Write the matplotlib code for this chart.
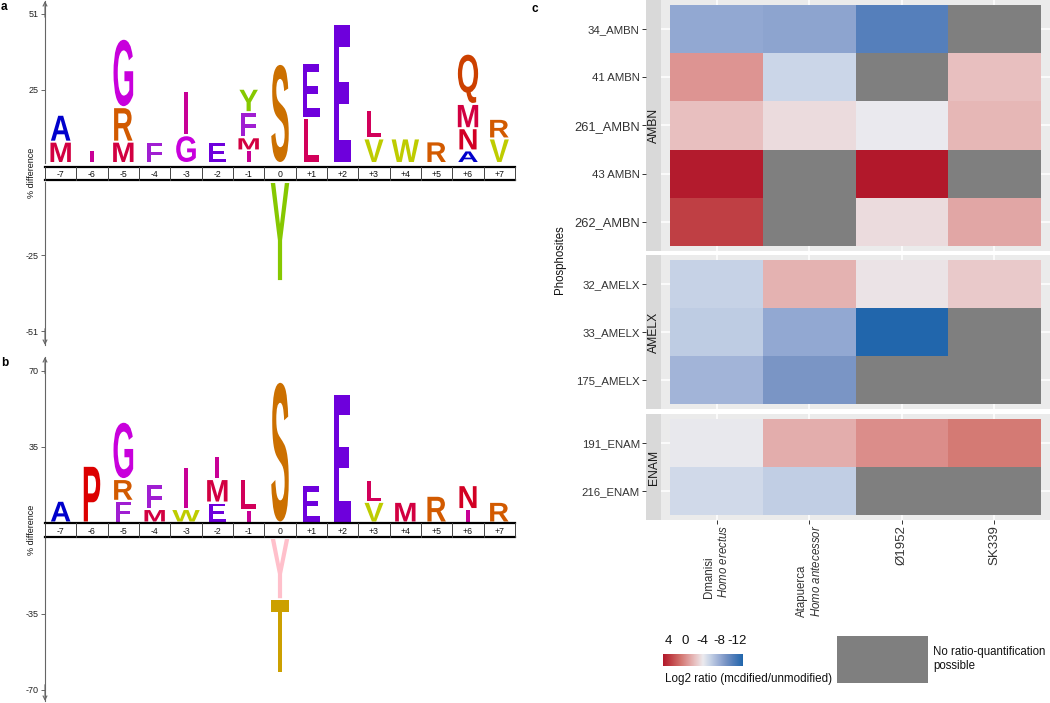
import numpy as np
import matplotlib
matplotlib.use('Agg')
import matplotlib.pyplot as plt
from matplotlib.textpath import TextPath
from matplotlib.patches import PathPatch
from matplotlib.font_manager import FontProperties
import matplotlib.transforms as mtransforms
from matplotlib.colors import LinearSegmentedColormap, Normalize

plt.rcParams['font.family'] = ['Liberation Sans', 'DejaVu Sans']
plt.rcParams['mathtext.fontset'] = 'custom'
plt.rcParams['mathtext.rm'] = 'Liberation Sans'
plt.rcParams['mathtext.it'] = 'Liberation Sans:italic'

W, H = 1050, 703

# ------------------------------------------------------------------ data
positions = ['-7', '-6', '-5', '-4', '-3', '-2', '-1', '0',
             '+1', '+2', '+3', '+4', '+5', '+6', '+7']

# panel a : letters stacked bottom->top, heights in % difference
a_up_letters = ['MA', 'I', 'MRG', 'F', 'GI', 'E', 'IMFY', 'S', 'LE', 'E',
                'VL', 'W', 'R', 'ANMQ', 'VR']
a_up_heights = [[7.3, 9.2], [4.3], [7.3, 11.8, 23.4], [7.3], [9.5, 15.3],
                [7.3], [4.3, 4.5, 8.6, 8.0], [33.9], [15.4, 18.9], [47.6],
                [8.4, 9.6], [8.4], [7.4], [4.3, 7.6, 8.3, 17.2], [8.4, 6.7]]
a_dn_pos = ['0']
a_dn_letters = ['Y']
a_dn_heights = [[33.9]]
a_ticks = [25, 51]

# panel b
b_up_letters = ['A', 'P', 'FRG', 'MF', 'WI', 'EMI', 'IL', 'S', 'E', 'E',
                'VL', 'M', 'R', 'IN', 'R']
b_up_heights = [[10.0], [26.1], [10.0, 10.0, 26.4], [6.2, 11.5], [6.2, 19.2],
                [9.2, 10.8, 10.7], [5.8, 14.2], [64.8], [17.2], [59.4],
                [9.5, 10.2], [9.5], [12.3], [6.2, 11.0], [9.5]]
b_dn_pos = ['0']
b_dn_letters = ['YT']
b_dn_heights = [[28.2, 33.8]]
b_ticks = [35, 70]

aa_colors = {'A': '#0000CC', 'E': '#6E00DC', 'F': '#A01ED2', 'G': '#C800DC',
             'I': '#C80096', 'L': '#D2005A', 'M': '#D20041', 'N': '#D20023',
             'P': '#DC0000', 'Q': '#CC4000', 'R': '#D25A00', 'S': '#CC7000',
             'V': '#BECC00', 'W': '#BECC00', 'Y': '#86C800', 'T': '#CCA000'}
b_dn_colors = {'Y': '#FFC0CB', 'T': '#CCA000'}

# panel c : heatmap (log2 ratio modified/unmodified), nan = not quantifiable
samples_line1 = ['Dmanisi', 'Atapuerca', 'Ø1952', 'SK339']
samples_line2 = ['Homo erectus', 'Homo antecessor', '', '']
nan = np.nan
ambn_sites = ['34_AMBN', '41 AMBN', '261_AMBN', '43 AMBN', '262_AMBN']
ambn_vals = [[-8.2, -8.4, -11.0, nan],
             [-0.3, -5.6, nan, -2.2],
             [-2.2, -3.4, -4.2, -1.8],
             [5.0, nan, 5.2, nan],
             [3.4, nan, -3.4, -1.1]]
amelx_sites = ['32_AMELX', '33_AMELX', '175_AMELX']
amelx_vals = [[-5.8, -1.6, -3.8, -2.6],
              [-6.2, -8.2, -13.4, nan],
              [-7.5, -9.3, nan, nan]]
enam_sites = ['191_ENAM', '216_ENAM']
enam_vals = [[-4.3, -1.4, 0.0, 0.9],
             [-5.4, -6.0, nan, nan]]
cbar_ticks = [4, 0, -4, -8, -12]

# ------------------------------------------------------------------ helpers
fig = plt.figure(figsize=(W / 100, H / 100), dpi=100)


def rect(x0, y0, x1, y1):
    return [x0 / W, 1 - y1 / H, (x1 - x0) / W, (y1 - y0) / H]


FP = FontProperties(family='Liberation Sans', weight='bold')
EM_W = 0.93
_gl = {}


def glyph(ch):
    if ch not in _gl:
        _gl[ch] = TextPath((0, 0), ch, size=1, prop=FP)
    return _gl[ch]


def draw_letter(ax, ch, xc, y0, y1, color, pad):
    tp = glyph(ch)
    bb = tp.get_extents()
    lo, hi = min(y0, y1) + pad, max(y0, y1) - pad
    if hi <= lo:
        return
    tr = (mtransforms.Affine2D()
          .translate(-(bb.x0 + bb.x1) / 2, -bb.y0)
          .scale(EM_W, (hi - lo) / bb.height)
          .translate(xc, lo))
    ax.add_patch(PathPatch(tr.transform_path(tp), facecolor=color,
                           edgecolor='none', lw=0))


LX0, LX1 = 45, 515


def logo(top, z_up, t_top, t_bot, z_dn, bot, ppu, up_l, up_h, dn_p, dn_l, dn_h,
         ticks, dn_colors, label_y):
    xlim = (-0.5, len(positions) - 0.5)
    axu = fig.add_axes(rect(LX0, top, LX1, z_up))
    axu.set_xlim(xlim)
    axu.set_ylim(0, (z_up - top) / ppu)
    axd = fig.add_axes(rect(LX0, z_dn, LX1, bot))
    axd.set_xlim(xlim)
    axd.set_ylim(-(bot - z_dn) / ppu, 0)
    pad = 1.0 / ppu
    for i, (lets, hs) in enumerate(zip(up_l, up_h)):
        y = 0.0
        for ch, h in zip(lets, hs):
            draw_letter(axu, ch, i, y, y + h, aa_colors[ch], pad)
            y += h
    for p, lets, hs in zip(dn_p, dn_l, dn_h):
        i = positions.index(p)
        y = 0.0
        for ch, h in zip(lets, hs):
            draw_letter(axd, ch, i, y, y - h, dn_colors.get(ch, aa_colors[ch]), pad)
            y -= h
    for ax, tk in ((axu, ticks), (axd, [-t for t in ticks])):
        for s in ('top', 'right', 'bottom'):
            ax.spines[s].set_visible(False)
        ax.spines['left'].set_color('#666666')
        ax.spines['left'].set_linewidth(0.8)
        ax.set_xticks([])
        ax.set_yticks(tk)
        ax.set_yticklabels([str(t) for t in tk])
        ax.tick_params(axis='y', length=3, width=0.7, color='#666666',
                       labelsize=6.5, pad=1.5, labelcolor='#222222')
        ax.patch.set_visible(False)
    axu.annotate('', xy=(0, 1), xytext=(0, 0.9), xycoords='axes fraction',
                 arrowprops=dict(arrowstyle='->', color='#666666', lw=0.8,
                                 shrinkA=0, shrinkB=0, mutation_scale=7),
                 annotation_clip=False)
    axd.annotate('', xy=(0, 0), xytext=(0, 0.1), xycoords='axes fraction',
                 arrowprops=dict(arrowstyle='->', color='#666666', lw=0.8,
                                 shrinkA=0, shrinkB=0, mutation_scale=7),
                 annotation_clip=False)
    axt = fig.add_axes(rect(LX0, t_top, LX1, t_bot))
    axt.set_xlim(xlim)
    axt.set_ylim(0, 1)
    axt.axis('off')
    axt.axhline(1, color='black', lw=1.6, clip_on=False)
    axt.axhline(0, color='black', lw=1.6, clip_on=False)
    for k in range(len(positions) + 1):
        axt.axvline(k - 0.5, color='#444444', lw=0.7, clip_on=False)
    for i, p in enumerate(positions):
        axt.text(i, 0.45, p, ha='center', va='center', fontsize=6.3, color='#111111')
    fig.text(32 / W, 1 - label_y / H, '% difference', rotation=90, ha='center',
             va='center', fontsize=6.5, color='#111111')


logo(1, 163, 166.7, 180.3, 182, 345, 2.923, a_up_letters, a_up_heights,
     a_dn_pos, a_dn_letters, a_dn_heights, a_ticks, {}, 173)
logo(357, 522.5, 523.3, 537.3, 538, 701, 2.171, b_up_letters, b_up_heights,
     b_dn_pos, b_dn_letters, b_dn_heights, b_ticks, b_dn_colors, 530)

for lab, x, y in (('a', 1, 1), ('b', 1, 357), ('c', 531, 3)):
    fig.text(x / W, 1 - y / H, lab, fontsize=8.5, fontweight='bold', va='top', ha='left')

# ------------------------------------------------------------------ heatmap
cmap = LinearSegmentedColormap.from_list('rb', [
    (0.00, '#2166AC'), (0.13, '#557FBB'), (0.22, '#7A95C5'), (0.28, '#93A8D2'),
    (0.42, '#CBD6E8'), (0.50, '#ECEAEE'), (0.60, '#E8C1C1'), (0.705, '#DD9492'),
    (0.77, '#D47973'), (0.90, '#C04146'), (1.00, '#B2182B')])
cmap.set_bad('#7F7F7F')
allv = np.concatenate([np.ravel(np.array(v, float)) for v in (ambn_vals, amelx_vals, enam_vals)])
vmin, vmax = np.nanmin(allv), np.nanmax(allv)
norm = Normalize(vmin, vmax)

nS = len(samples_line1)
facets = [('AMBN', ambn_sites, ambn_vals, 0, 251),
          ('AMELX', amelx_sites, amelx_vals, 255, 409),
          ('ENAM', enam_sites, enam_vals, 414, 520)]
big_labels = {'261_AMBN', '262_AMBN'}
last_ax = None
for name, sites, vals, y0, y1 in facets:
    n = len(sites)
    ax = fig.add_axes(rect(661, y0, 1050, y1))
    ax.set_facecolor('#EBEBEB')
    arr = np.ma.masked_invalid(np.array(vals, float))
    ax.set_xlim(0.4, nS + 0.6)
    ax.set_ylim(n + 0.6, 0.4)
    for xx in range(1, nS + 1):
        ax.axvline(xx, color='white', lw=1.1, zorder=0.5)
    for yy in range(1, n + 1):
        ax.axhline(yy, color='white', lw=1.1, zorder=0.5)
    ax.pcolormesh(np.arange(0.5, nS + 1), np.arange(0.5, n + 1), arr,
                  cmap=cmap, norm=norm, zorder=1, edgecolor='none')
    for s in ax.spines.values():
        s.set_visible(False)
    ax.set_xticks([])
    ax.set_yticks([])
    sax = fig.add_axes(rect(646, y0, 661, y1))
    sax.set_facecolor('#D9D9D9')
    for s in sax.spines.values():
        s.set_visible(False)
    sax.set_xlim(0, 1)
    sax.set_ylim(n + 0.6, 0.4)
    sax.set_xticks([])
    sax.set_yticks(range(1, n + 1))
    sax.set_yticklabels(sites)
    sax.tick_params(axis='y', length=3, width=0.7, color='#333333',
                    labelsize=8.2, pad=1.5, labelcolor='#333333')
    for lbl in sax.get_yticklabels():
        if lbl.get_text() in big_labels:
            lbl.set_fontsize(9.3)
    sax.text(0.5, 0.5, name, transform=sax.transAxes, rotation=90,
             ha='center', va='center', fontsize=8.7, color='#1A1A1A')
    last_ax = ax

xl = []
for l1, l2 in zip(samples_line1, samples_line2):
    if l2:
        xl.append(l1 + '\n$\\mathit{' + l2.replace(' ', '\\ ') + '}$')
    else:
        xl.append(l1)
last_ax.set_xticks(range(1, nS + 1))
last_ax.set_xticklabels(xl, rotation=90)
last_ax.tick_params(axis='x', length=3, width=0.7, color='#333333', pad=0.5,
                    labelcolor='#333333')
for lbl, l2 in zip(last_ax.get_xticklabels(), samples_line2):
    lbl.set_multialignment('left')
    lbl.set_fontsize(8.3 if l2 else 9.5)

fig.text(560 / W, 1 - 260 / H, 'Phosphosites', rotation=90, ha='center',
         va='center', fontsize=8.3, color='#111111')

# legend: colourbar
cax = fig.add_axes(rect(663, 654, 743, 666))
grad = np.linspace(vmax, vmin, 256)[None, :]
cax.imshow(grad, aspect='auto', cmap=cmap, norm=norm, extent=(vmax, vmin, 0, 1))
cax.set_xlim(vmax, vmin)
cax.set_xticks(cbar_ticks)
cax.set_xticklabels([str(t) for t in cbar_ticks])
cax.xaxis.set_ticks_position('top')
cax.tick_params(axis='x', length=0, labelsize=9.5, pad=5, labelcolor='#111111')
cax.set_yticks([])
for s in cax.spines.values():
    s.set_visible(False)
fig.text(665 / W, 1 - 679 / H, 'Log2 ratio (mcdified/unmodified)', fontsize=8.4,
         va='center', ha='left', color='#111111')

kax = fig.add_axes(rect(837, 636, 928, 683))
kax.set_facecolor('#7F7F7F')
kax.set_xticks([])
kax.set_yticks([])
for s in kax.spines.values():
    s.set_visible(False)
fig.text(933 / W, 1 - 659 / H, 'No ratio-quantification\npossible', fontsize=8.3,
         va='center', ha='left', linespacing=1.3, color='#111111')

fig.savefig('out.png', dpi=100)
